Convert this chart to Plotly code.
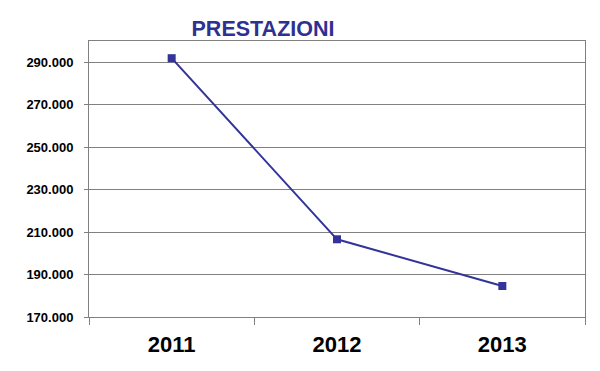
import plotly.graph_objects as go

years = ["2011", "2012", "2013"]
prestazioni = [291900, 206600, 184600]
y_ticks = [170000, 190000, 210000, 230000, 250000, 270000, 290000]

FONT = "Liberation Sans, Arial, sans-serif"
OFF = 8  # page body margin offset

fig = go.Figure()
fig.add_trace(go.Scatter(
    x=years, y=prestazioni, mode="lines+markers",
    line=dict(color="#333399", width=2),
    marker=dict(symbol="square", size=8, color="#333399"),
    showlegend=False,
))

fig.update_layout(
    width=600, height=371,
    margin=dict(l=89 - OFF, r=15 + OFF, t=41 - OFF, b=54 + OFF),
    paper_bgcolor="white", plot_bgcolor="white",
    separators=",.",
    font=dict(family=FONT, color="black"),
    title=dict(text="PRESTAZIONI", x=(263 - OFF) / 600, xanchor="center",
               y=1 - (28.5 - OFF) / 371, yanchor="middle", yref="container",
               font=dict(size=21.5, color="#2E3192", family=FONT, weight="bold")),
)
fig.update_xaxes(
    type="category", range=[-0.5, 2.5], tickson="boundaries", ticks="outside", ticklen=7,
    tickcolor="#808080", showline=True, linecolor="#808080", linewidth=1,
    mirror=True, showgrid=False, automargin=False,
    tickfont=dict(size=22, family=FONT, color="black", weight="bold"),
    ticklabelstandoff=8,
)
fig.update_yaxes(
    range=[170000, 300000], tickvals=y_ticks, tickformat=",d",
    ticks="outside", ticklen=4, tickcolor="#808080",
    showline=True, linecolor="#808080", linewidth=1, mirror=True,
    showgrid=True, gridcolor="#808080", gridwidth=1,
    tickfont=dict(size=13, family=FONT, color="black", weight="bold"),
    zeroline=False, automargin=False,
    ticklabelstandoff=8,
)

fig.write_html("out.html")
